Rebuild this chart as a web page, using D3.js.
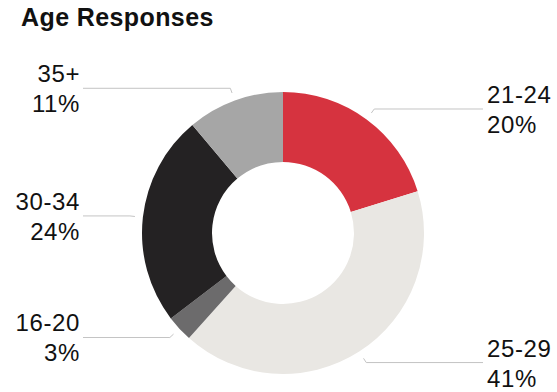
<!DOCTYPE html>
<html>
<head>
<meta charset="utf-8">
<script src="https://cdn.jsdelivr.net/npm/d3@7"></script>
<style>
  html, body { margin: 0; padding: 0; background: #fff; }
  svg { display: block; }
  text { font-family: "Liberation Sans", Arial, Helvetica, sans-serif; fill: #111; }
</style>
</head>
<body>
<svg id="chart" width="557" height="392"></svg>
<script>
// Age groups, clockwise from 12 o'clock
const categories = ["21-24", "25-29", "16-20", "30-34", "35+"];
const shares = [20, 41, 3, 24, 11];          // percent of responses
const sliceColors = ["#d6333f", "#e9e7e3", "#6c6b6c", "#242223", "#a6a6a6"];

const W = 557, H = 392;
const cx = 283, cy = 233;
const outerR = 141, innerR = 71;

const svg = d3.select("#chart");

svg.append("text")
  .attr("x", 21)
  .attr("y", 26)
  .style("font-size", "25px")
  .style("font-weight", "bold")
  .style("letter-spacing", "0.4px")
  .text("Age Responses");

const data = categories.map((c, i) => ({ label: c, value: shares[i], color: sliceColors[i] }));

const pie = d3.pie().sort(null).value(d => d.value);
const arcs = pie(data);

const arc = d3.arc().innerRadius(innerR).outerRadius(outerR);
const startArc = d3.arc().innerRadius(149).outerRadius(149);
const elbowArc = d3.arc().innerRadius(154).outerRadius(154);

const g = svg.append("g").attr("transform", `translate(${cx},${cy})`);

g.selectAll("path.slice")
  .data(arcs)
  .join("path")
  .attr("class", "slice")
  .attr("d", arc)
  .attr("fill", d => d.data.color);

const mid = d => (d.startAngle + d.endAngle) / 2;
const rightX = 483 - cx, leftX = 83 - cx;

// leader lines: short radial tick, then horizontal run to the label column
g.selectAll("polyline.leader")
  .data(arcs)
  .join("polyline")
  .attr("class", "leader")
  .attr("fill", "none")
  .attr("stroke", "#c4c4c4")
  .attr("stroke-width", 1)
  .attr("points", d => {
    const p0 = startArc.centroid(d);
    const p1 = elbowArc.centroid(d);
    const xEnd = mid(d) < Math.PI ? rightX : leftX;
    return [p0, p1, [xEnd, p1[1]]].map(p => p.join(",")).join(" ");
  });

const labels = g.selectAll("text.lbl")
  .data(arcs)
  .join("text")
  .attr("class", "lbl")
  .style("font-size", "24px")
  .style("letter-spacing", "0.6px")
  .attr("text-anchor", d => mid(d) < Math.PI ? "start" : "end")
  .attr("transform", d => {
    const p1 = elbowArc.centroid(d);
    const x = mid(d) < Math.PI ? 487 - cx : 80 - cx;
    return `translate(${x},${p1[1]})`;
  });

labels.append("tspan")
  .attr("x", 0)
  .attr("y", -6)
  .text(d => d.data.label);

labels.append("tspan")
  .attr("x", 0)
  .attr("y", 24)
  .text(d => d.data.value + "%");
</script>
</body>
</html>
